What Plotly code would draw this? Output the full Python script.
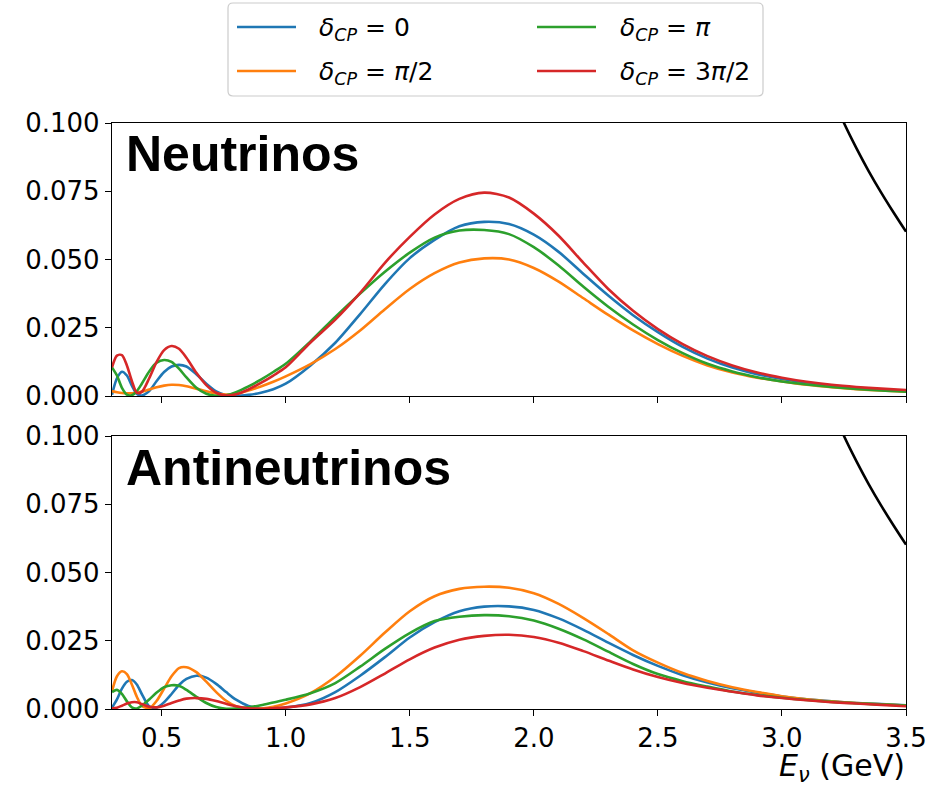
import plotly.graph_objects as go

# ---------------- data ----------------
energy = [0.30, 0.32, 0.34, 0.36, 0.38, 0.40, 0.42, 0.45, 0.48, 0.51, 0.54, 0.57,
          0.60, 0.64, 0.68, 0.72, 0.76, 0.80, 0.85, 0.90, 0.95, 1.0, 1.1, 1.2,
          1.3, 1.4, 1.5, 1.6, 1.7, 1.8, 1.9, 2.0, 2.1, 2.2, 2.3, 2.4, 2.5, 2.6,
          2.7, 2.8, 2.9, 3.0, 3.1, 3.2, 3.3, 3.4, 3.5]

# Neutrinos
nu_dcp_0 = [0.0005, 0.0065, 0.0089, 0.0075, 0.0038, 0.0008, 0.0002, 0.0018, 0.0055, 0.0088, 0.0108, 0.0114,
            0.0108, 0.0080, 0.0045, 0.0017, 0.0003, 0.0000, 0.0004, 0.0012, 0.0025, 0.0045, 0.0112, 0.0195,
            0.0300, 0.0410, 0.0505, 0.0572, 0.0622, 0.0638, 0.0630, 0.0591, 0.0528, 0.0447, 0.0368, 0.0296, 0.0234, 0.0180,
            0.0137, 0.0104, 0.0080, 0.0062, 0.0048, 0.0038, 0.0030, 0.0024, 0.0019]
nu_dcp_pi2 = [0.0018, 0.0014, 0.0011, 0.0010, 0.0010, 0.0012, 0.0016, 0.0024, 0.0032, 0.0038, 0.0041, 0.0040,
              0.0036, 0.0027, 0.0017, 0.0009, 0.0005, 0.0008, 0.0020, 0.0035, 0.0052, 0.0072, 0.0117, 0.0172,
              0.0240, 0.0318, 0.0392, 0.0450, 0.0489, 0.0504, 0.0500, 0.0469, 0.0419, 0.0358, 0.0297, 0.0240, 0.0190, 0.0147,
              0.0112, 0.0086, 0.0067, 0.0053, 0.0041, 0.0032, 0.0025, 0.0020, 0.0016]
nu_dcp_pi = [0.0105, 0.0075, 0.0030, 0.0005, 0.0003, 0.0018, 0.0045, 0.0090, 0.0122, 0.0132, 0.0125, 0.0100,
             0.0068, 0.0030, 0.0008, 0.0001, 0.0003, 0.0014, 0.0035, 0.0060, 0.0088, 0.0118, 0.0200, 0.0290,
             0.0375, 0.0455, 0.0525, 0.0580, 0.0606, 0.0608, 0.0593, 0.0545, 0.0478, 0.0400, 0.0327, 0.0262, 0.0205, 0.0157,
             0.0118, 0.0090, 0.0069, 0.0053, 0.0042, 0.0033, 0.0026, 0.0020, 0.0016]
nu_dcp_3pi2 = [0.0105, 0.0148, 0.0150, 0.0112, 0.0055, 0.0012, 0.0015, 0.0065, 0.0125, 0.0168, 0.0183, 0.0173,
               0.0140, 0.0085, 0.0040, 0.0012, 0.0002, 0.0006, 0.0024, 0.0048, 0.0075, 0.0105, 0.0196, 0.0280,
               0.0378, 0.0488, 0.0583, 0.0665, 0.0722, 0.0745, 0.0727, 0.0668, 0.0587, 0.0488, 0.0392, 0.0312, 0.0245, 0.0190,
               0.0146, 0.0112, 0.0086, 0.0067, 0.0052, 0.0041, 0.0033, 0.0027, 0.0022]

# Antineutrinos
anu_dcp_0 = [0.0005, 0.0035, 0.0075, 0.0100, 0.0106, 0.0090, 0.0055, 0.0010, 0.0005, 0.0025, 0.0055, 0.0088,
             0.0110, 0.0122, 0.0115, 0.0092, 0.0062, 0.0034, 0.0011, 0.0001, 0.0001, 0.0005, 0.0022, 0.0062,
             0.0122, 0.0190, 0.0262, 0.0318, 0.0358, 0.0375, 0.0376, 0.0363, 0.0332, 0.0290, 0.0243, 0.0198, 0.0158, 0.0124,
             0.0097, 0.0076, 0.0060, 0.0046, 0.0036, 0.0028, 0.0022, 0.0018, 0.0014]
anu_dcp_pi2 = [0.0065, 0.0120, 0.0138, 0.0128, 0.0090, 0.0045, 0.0012, 0.0003, 0.0030, 0.0075, 0.0120, 0.0150,
               0.0153, 0.0135, 0.0100, 0.0062, 0.0030, 0.0010, 0.0001, 0.0002, 0.0008, 0.0020, 0.0058, 0.0118,
               0.0195, 0.0280, 0.0358, 0.0413, 0.0440, 0.0448, 0.0444, 0.0424, 0.0385, 0.0333, 0.0275, 0.0215, 0.0170, 0.0132,
               0.0103, 0.0080, 0.0062, 0.0047, 0.0036, 0.0028, 0.0022, 0.0017, 0.0013]
anu_dcp_pi = [0.0062, 0.0070, 0.0055, 0.0028, 0.0006, 0.0002, 0.0012, 0.0035, 0.0060, 0.0080, 0.0087, 0.0085,
              0.0070, 0.0045, 0.0022, 0.0007, 0.0001, 0.0002, 0.0006, 0.0014, 0.0024, 0.0034, 0.0058, 0.0095,
              0.0155, 0.0220, 0.0278, 0.0322, 0.0338, 0.0344, 0.0340, 0.0324, 0.0294, 0.0255, 0.0210, 0.0165, 0.0128, 0.0102,
              0.0082, 0.0064, 0.0051, 0.0041, 0.0033, 0.0026, 0.0021, 0.0017, 0.0013]
anu_dcp_3pi2 = [0.0003, 0.0005, 0.0012, 0.0020, 0.0025, 0.0025, 0.0018, 0.0008, 0.0006, 0.0012, 0.0022, 0.0031,
                0.0038, 0.0040, 0.0037, 0.0029, 0.0019, 0.0010, 0.0003, 0.0001, 0.0003, 0.0006, 0.0017, 0.0040,
                0.0080, 0.0130, 0.0182, 0.0225, 0.0254, 0.0268, 0.0272, 0.0264, 0.0243, 0.0212, 0.0178, 0.0145, 0.0117, 0.0095,
                0.0078, 0.0063, 0.0050, 0.0040, 0.0032, 0.0025, 0.0020, 0.0015, 0.0010]

# black reference curve (mostly off scale)
ref_energy = [3.20, 3.25, 3.30, 3.35, 3.40, 3.45, 3.50]
ref_values = [0.1105, 0.1000, 0.0908, 0.0823, 0.0745, 0.0672, 0.0602]

series_labels = ["δ_CP = 0", "δ_CP = π/2", "δ_CP = π", "δ_CP = 3π/2"]
legend_html = ["<i>δ</i><sub><i>CP</i></sub> = 0",
               "<i>δ</i><sub><i>CP</i></sub> = <i>π</i>/2",
               "<i>δ</i><sub><i>CP</i></sub> = <i>π</i>",
               "<i>δ</i><sub><i>CP</i></sub> = 3<i>π</i>/2"]
colors = ["#1f77b4", "#ff7f0e", "#2ca02c", "#d62728"]
panel_labels = ["Neutrinos", "Antineutrinos"]
x_ticks = [0.5, 1.0, 1.5, 2.0, 2.5, 3.0, 3.5]
y_ticks = [0.0, 0.025, 0.05, 0.075, 0.1]

# ---------------- figure ----------------
W, H = 927, 788
PL, PR, PT, PB = 112, 906, 123, 709
pw, ph = PR - PL, PB - PT


def px(xp):
    return (xp - PL) / pw


def py(yp):
    return (PB - yp) / ph


fig = go.Figure()
nu_sets = [nu_dcp_0, nu_dcp_pi2, nu_dcp_pi, nu_dcp_3pi2]
anu_sets = [anu_dcp_0, anu_dcp_pi2, anu_dcp_pi, anu_dcp_3pi2]
for i in range(4):
    fig.add_trace(go.Scatter(x=energy, y=nu_sets[i], mode="lines", name=series_labels[i],
                             line=dict(color=colors[i], width=2.6, shape="spline", smoothing=0.8),
                             xaxis="x", yaxis="y", showlegend=False))
for i in range(4):
    fig.add_trace(go.Scatter(x=energy, y=anu_sets[i], mode="lines", name=series_labels[i],
                             line=dict(color=colors[i], width=2.6, shape="spline", smoothing=0.8),
                             xaxis="x2", yaxis="y2", showlegend=False))
for xa, ya in (("x", "y"), ("x2", "y2")):
    fig.add_trace(go.Scatter(x=ref_energy, y=ref_values, mode="lines", name="reference",
                             line=dict(color="black", width=2.6, shape="spline"),
                             xaxis=xa, yaxis=ya, showlegend=False))

axis_common = dict(showline=True, mirror=True, linecolor="black", linewidth=1.3,
                   ticks="outside", ticklen=6, tickwidth=1.3, tickcolor="black",
                   showgrid=False, zeroline=False, automargin=False,
                   tickfont=dict(family="DejaVu Sans", size=26, color="black"))
top_dom = [(ph - 273) / ph, 1.0]
bot_dom = [0.0, 273 / ph]

fig.update_layout(
    width=W, height=H, autosize=False,
    margin=dict(l=PL, r=W - PR, t=PT, b=H - PB, autoexpand=False),
    paper_bgcolor="white", plot_bgcolor="white",
    xaxis=dict(range=[0.3, 3.5], tickvals=x_ticks, showticklabels=False,
               domain=[0, 1], anchor="y", **axis_common),
    yaxis=dict(range=[0, 0.1], tickvals=y_ticks, tickformat=".3f", domain=top_dom,
               anchor="x", **axis_common),
    xaxis2=dict(range=[0.3, 3.5], tickvals=x_ticks, tickformat=".1f", domain=[0, 1],
                anchor="y2", matches="x", **axis_common),
    yaxis2=dict(range=[0, 0.1], tickvals=y_ticks, tickformat=".3f", domain=bot_dom,
                anchor="x2", **axis_common),
)

annotations = []
# panel labels
annotations.append(dict(text="<b>" + panel_labels[0] + "</b>", xref="paper", yref="paper",
                        x=px(124), y=py(154), xanchor="left", yanchor="middle", showarrow=False,
                        font=dict(family="Liberation Sans", size=50, color="black")))
annotations.append(dict(text="<b>" + panel_labels[1] + "</b>", xref="paper", yref="paper",
                        x=px(124), y=py(468), xanchor="left", yanchor="middle", showarrow=False,
                        font=dict(family="Liberation Sans", size=50, color="black")))
# x axis title
annotations.append(dict(text="<i>E</i><sub><i>ν</i></sub> (GeV)", xref="paper", yref="paper",
                        x=1.0, y=py(788), xanchor="right", yanchor="bottom", showarrow=False,
                        borderpad=0,
                        font=dict(family="DejaVu Sans", size=30, color="black")))

# manual legend
shapes = []
bx0, bx1, by0, by1, r = 228, 763, 3, 96, 5
path = (f"M {px(bx0 + r)},{py(by0)} L {px(bx1 - r)},{py(by0)} "
        f"Q {px(bx1)},{py(by0)} {px(bx1)},{py(by0 + r)} "
        f"L {px(bx1)},{py(by1 - r)} Q {px(bx1)},{py(by1)} {px(bx1 - r)},{py(by1)} "
        f"L {px(bx0 + r)},{py(by1)} Q {px(bx0)},{py(by1)} {px(bx0)},{py(by1 - r)} "
        f"L {px(bx0)},{py(by0 + r)} Q {px(bx0)},{py(by0)} {px(bx0 + r)},{py(by0)} Z")
shapes.append(dict(type="path", path=path, xref="paper", yref="paper",
                   line=dict(color="#cccccc", width=1.2), fillcolor="rgba(255,255,255,0.8)"))
slots = [(237, 296, 317, 27), (237, 296, 317, 71), (537, 596, 618, 27), (537, 596, 618, 71)]
for i, (l0, l1, tx, ty) in enumerate(slots):
    shapes.append(dict(type="line", xref="paper", yref="paper", x0=px(l0), x1=px(l1),
                       y0=py(ty), y1=py(ty), line=dict(color=colors[i], width=2.6)))
    annotations.append(dict(text=legend_html[i], xref="paper", yref="paper", x=px(tx), y=py(ty + 2),
                            xanchor="left", yanchor="middle", showarrow=False,
                            font=dict(family="DejaVu Sans", size=25, color="black")))

fig.update_layout(annotations=annotations, shapes=shapes)
fig.write_html("out.html")
